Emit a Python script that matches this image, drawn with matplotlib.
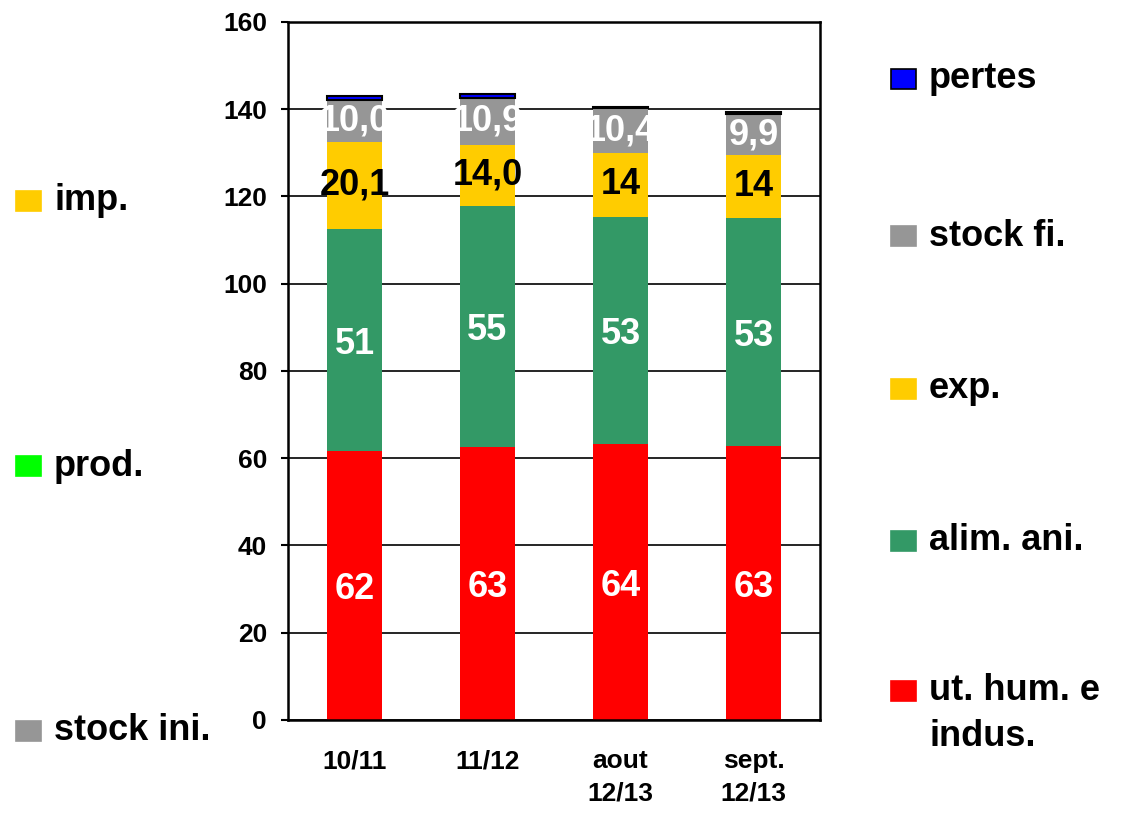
import matplotlib.pyplot as plt
from matplotlib.patches import Rectangle

plt.rcParams['font.family'] = ['Liberation Sans', 'DejaVu Sans']
plt.rcParams['font.weight'] = 'bold'

# data
periods = ['10/11', '11/12', 'aout\n12/13', 'sept.\n12/13']
ut_hum = [61.6, 62.6, 63.3, 62.7]
alim_ani = [51.0, 55.3, 52.1, 52.3]
exp_ = [20.0, 13.9, 14.5, 14.4]
stock_fi = [9.4, 10.8, 10.3, 9.6]
pertes = [1.0, 1.0, 0.3, 0.3]

lab_ut_hum = ['62', '63', '64', '63']
lab_alim = ['51', '55', '53', '53']
lab_exp = ['20,1', '14,0', '14', '14']
lab_stock = ['10,0', '10,9', '10,4', '9,9']

c_red = '#FF0000'
c_green = '#339966'
c_yellow = '#FFCC00'
c_gray = '#969696'
c_blue = '#0000FF'
c_lime = '#00FF00'

fig = plt.figure(figsize=(11.35, 8.23), dpi=100)
ax = fig.add_axes([0.2537, 0.1252, 0.4688, 0.8481])

x = range(len(periods))
w = 0.41
b1 = ut_hum
b2 = [a + b for a, b in zip(b1, alim_ani)]
b3 = [a + b for a, b in zip(b2, exp_)]
b4 = [a + b for a, b in zip(b3, stock_fi)]

ax.bar(x, ut_hum, w, color=c_red, zorder=2)
ax.bar(x, alim_ani, w, bottom=b1, color=c_green, zorder=2)
ax.bar(x, exp_, w, bottom=b2, color=c_yellow, zorder=2)
ax.bar(x, stock_fi, w, bottom=b3, color=c_gray, zorder=2)
ax.bar(x, pertes, w, bottom=b4, color=[c_blue, c_blue, 'black', 'black'],
       edgecolor='black', linewidth=1.5, zorder=2)

vsize = 26
for i in x:
    ax.text(i, ut_hum[i] / 2 - 1, lab_ut_hum[i], ha='center', va='center',
            color='white', fontsize=vsize, fontweight='bold', zorder=4)
    ax.text(i, b1[i] + alim_ani[i] / 2 - 1, lab_alim[i], ha='center', va='center',
            color='white', fontsize=vsize, fontweight='bold', zorder=4)
    ax.text(i, b2[i] + exp_[i] / 2, lab_exp[i], ha='center', va='center',
            color='black', fontsize=vsize, fontweight='bold', zorder=4)
    ax.text(i, b3[i] + stock_fi[i] / 2, lab_stock[i], ha='center', va='center',
            color='white', fontsize=vsize, fontweight='bold', zorder=4)

ax.set_xlim(-0.5, 3.5)
ax.set_ylim(0, 160)
ax.set_yticks(range(0, 161, 20))
ax.set_xticks(list(x))
ax.set_xticklabels(periods, fontsize=19, fontweight='bold', linespacing=1.45)
ax.tick_params(axis='x', length=0, pad=21)
ax.tick_params(axis='y', labelsize=19, length=5, width=1.5, pad=10)
for lab in ax.get_yticklabels():
    lab.set_fontweight('bold')
ax.yaxis.grid(True, color='black', linewidth=1.2)
ax.set_axisbelow(True)
for s in ax.spines.values():
    s.set_linewidth(1.8)

# legends drawn by hand around the plot
lsize = 26


def legend_item(xp, yp, color, text, edge=None):
    fig.patches.append(Rectangle((xp / 1135, 1 - (yp + 10) / 823), 25 / 1135, 20 / 823,
                                 transform=fig.transFigure, facecolor=color,
                                 edgecolor=edge or color, linewidth=1.2))
    fig.text((xp + 38) / 1135, 1 - yp / 823, text, fontsize=lsize, fontweight='bold',
             va='center', ha='left')


legend_item(16, 201, c_yellow, 'imp.')
legend_item(16, 466, c_lime, 'prod.')
legend_item(16, 731, c_gray, 'stock ini.')

legend_item(891, 79, c_blue, 'pertes', edge='black')
legend_item(891, 236, c_gray, 'stock fi.')
legend_item(891, 389, c_yellow, 'exp.')
legend_item(891, 541, c_green, 'alim. ani.')
legend_item(891, 691, c_red, 'ut. hum. e')
fig.text((891 + 38) / 1135, 1 - 737 / 823, 'indus.', fontsize=lsize, fontweight='bold',
         va='center', ha='left')

fig.savefig('out.png', dpi=100)
